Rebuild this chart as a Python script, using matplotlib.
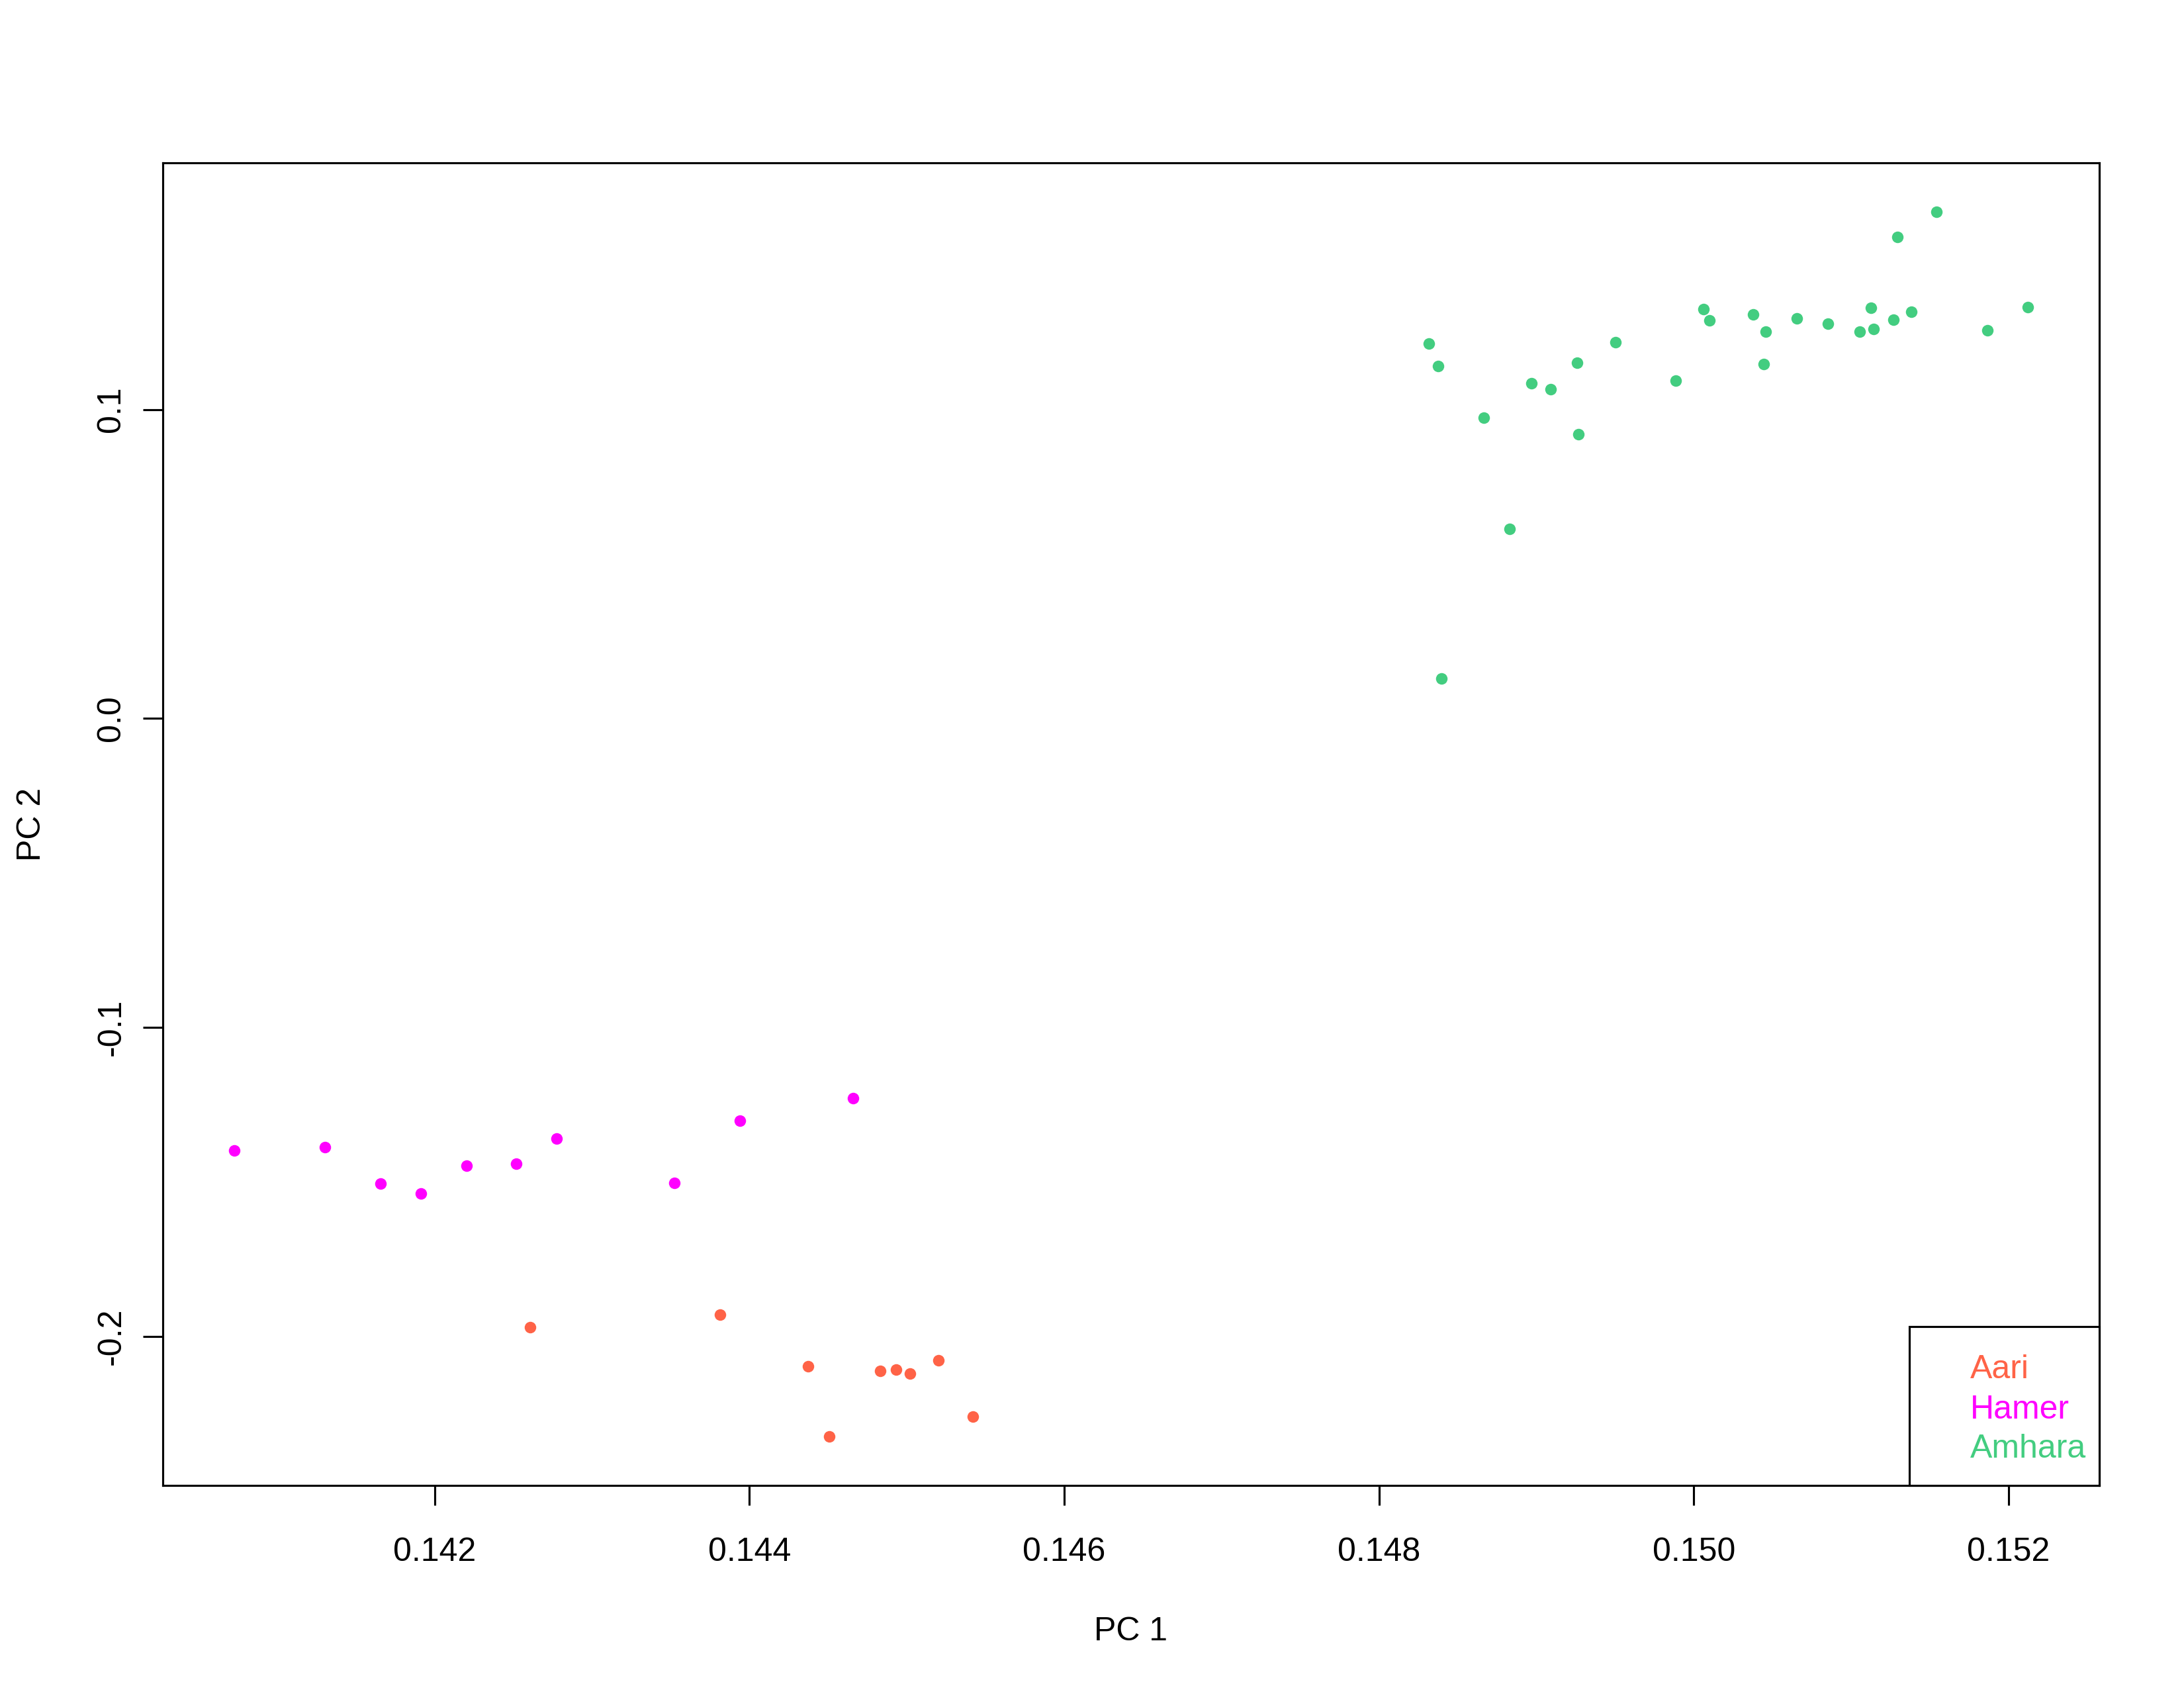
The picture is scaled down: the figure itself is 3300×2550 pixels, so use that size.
# PCA 산점도 (PC1 vs PC2), R base plot 모양 재현

import matplotlib
matplotlib.use('Agg')  # 화면 없음
import matplotlib.pyplot as plt
from matplotlib.patches import Rectangle

plt.rcParams['font.family'] = ['Liberation Sans', 'DejaVu Sans']

# [1] 데이터: 그룹별 PC1, PC2 값
groups = ['Aari', 'Hamer', 'Amhara']
group_colors = ['#FF6347', '#FF00FF', '#43CD80']  # tomato, magenta, seagreen3

aari_pc1 = [0.142607, 0.143813, 0.144374, 0.144508, 0.144830, 0.144930,
            0.145019, 0.145200, 0.145419]
aari_pc2 = [-0.19707, -0.19306, -0.20977, -0.23242, -0.21112, -0.21084,
            -0.21213, -0.20778, -0.22605]

hamer_pc1 = [0.140729, 0.141304, 0.141657, 0.141912, 0.142205, 0.142518,
             0.142776, 0.143525, 0.143940, 0.144660]
hamer_pc2 = [-0.13977, -0.13870, -0.15056, -0.15370, -0.14485, -0.14420,
             -0.13600, -0.15035, -0.13022, -0.12299]

amhara_pc1 = [0.148316, 0.148376, 0.148666, 0.148970, 0.149089, 0.149260,
              0.149266, 0.149504, 0.149886, 0.150061, 0.150099, 0.150376,
              0.150442, 0.150456, 0.150654, 0.150853, 0.151053, 0.151126,
              0.151143, 0.151266, 0.151382, 0.151292, 0.151542, 0.151864,
              0.152120, 0.148828, 0.148398]
amhara_pc2 = [0.12128, 0.11406, 0.09743, 0.10849, 0.10656, 0.11521,
              0.09192, 0.12186, 0.10943, 0.13242, 0.12884, 0.13086,
              0.11463, 0.12528, 0.12942, 0.12771, 0.12520, 0.13285,
              0.12599, 0.12914, 0.13156, 0.15584, 0.16398, 0.12556,
              0.13313, 0.06135, 0.01292]

x_ticks = [0.142, 0.144, 0.146, 0.148, 0.150, 0.152]
x_tick_labels = ['0.142', '0.144', '0.146', '0.148', '0.150', '0.152']
y_ticks = [-0.2, -0.1, 0.0, 0.1]
y_tick_labels = ['-0.2', '-0.1', '0.0', '0.1']

pc1_list = [aari_pc1, hamer_pc1, amhara_pc1]
pc2_list = [aari_pc2, hamer_pc2, amhara_pc2]

# [2] 그림 준비 (3300x2550 px)
fig = plt.figure(figsize=(11, 8.5), dpi=300)
W, H = 3300, 2550
ax = fig.add_axes([246 / W, 1 - 2244 / H, (3172 - 246) / W, (2244 - 246) / H])

# [3] 점 찍기
for xs, ys, c in zip(pc1_list, pc2_list, group_colors):
    ax.plot(xs, ys, 'o', color=c, markersize=4.2, markeredgewidth=0, linestyle='none')

# [4] 축 범위: R처럼 양쪽 4% 여백
all_x = aari_pc1 + hamer_pc1 + amhara_pc1
all_y = aari_pc2 + hamer_pc2 + amhara_pc2
dx = (max(all_x) - min(all_x)) * 0.04
dy = (max(all_y) - min(all_y)) * 0.04
ax.set_xlim(min(all_x) - dx, max(all_x) + dx)
ax.set_ylim(min(all_y) - dy, max(all_y) + dy)

# [5] 눈금, 테두리
ax.set_xticks(x_ticks, x_tick_labels)
ax.set_yticks(y_ticks, y_tick_labels, rotation=90, va='center')
ax.tick_params(axis='both', direction='out', length=7.2, width=0.75,
               labelsize=12, colors='black')
ax.tick_params(axis='x', pad=11.5)
ax.tick_params(axis='y', pad=5.9)
for s in ax.spines.values():
    s.set_linewidth(0.75)

# [6] 축 제목
ax.set_xlabel('PC 1', fontsize=12)
ax.xaxis.set_label_coords(0.5, (2244 - 2478) / 1998)
ax.xaxis.label.set_va('baseline')
ax.set_ylabel('PC 2', fontsize=12)
ax.yaxis.label.set_rotation_mode('anchor')
ax.yaxis.label.set_va('baseline')
ax.yaxis.set_label_coords((60.7 - 246) / 2926, 0.5)

# [7] 범례 (오른쪽 아래, 글자색만)
ax.add_patch(Rectangle(((2885 - 246) / 2926, 0), 1 - (2885 - 246) / 2926,
                       (2244 - 2004) / 1998, transform=ax.transAxes,
                       facecolor='white', edgecolor='black', linewidth=0.75,
                       clip_on=False, zorder=3))
legend_y = [(2244 - 2081.7) / 1998, (2244 - 2142.7) / 1998, (2244 - 2201.7) / 1998]
for name, c, ly in zip(groups, group_colors, legend_y):
    ax.text((2976.7 - 246) / 2926, ly, name, color=c, fontsize=12,
            va='baseline', ha='left', transform=ax.transAxes, zorder=4)

fig.savefig('out.png', dpi=300, facecolor='white')
